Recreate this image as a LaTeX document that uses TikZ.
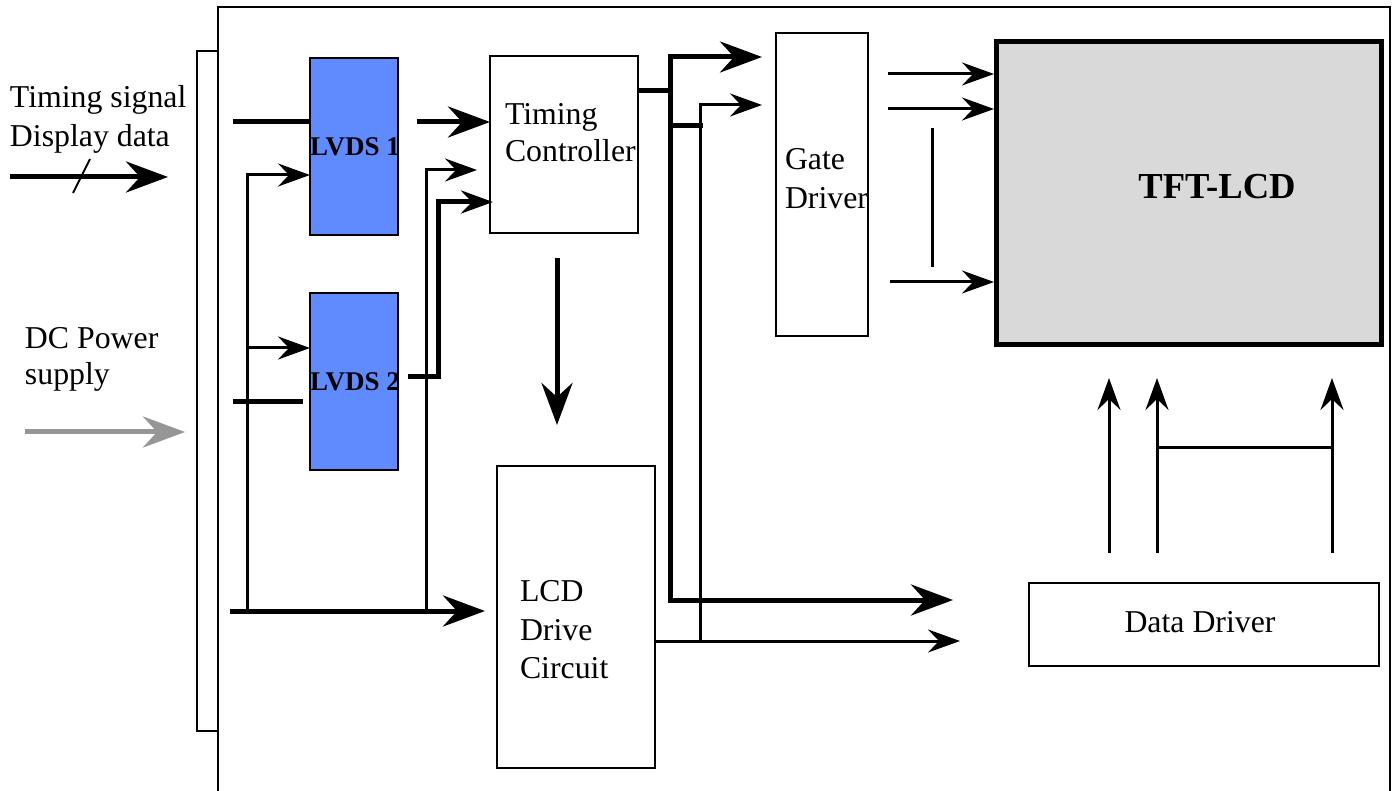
\documentclass[tikz,border=0pt]{standalone}
\usepackage{fontspec}
\setmainfont{Liberation Serif}
\usetikzlibrary{arrows.meta}
\definecolor{lvdsblue}{RGB}{95,139,255}
\definecolor{lcdgrey}{RGB}{217,217,217}
\definecolor{powergrey}{RGB}{150,150,150}
\begin{document}
\begin{tikzpicture}[x=0.5pt,y=-0.5pt,
  every node/.style={inner sep=0pt, outer sep=0pt},
  box/.style={draw, line width=1pt, anchor=north west},
  txt/.style={anchor=base west, font=\fontsize{15.9}{19.5}\selectfont},
  boldtxt/.style={font=\fontsize{13.5}{15}\selectfont\bfseries},
  thn/.style={line width=1.5pt},
  thk/.style={line width=2.5pt},
  big/.style={-{Stealth[length=21pt,width=15.5pt,inset=7pt]}},
  small/.style={-{Stealth[length=16pt,width=11.5pt,inset=5.5pt]}},
]
\useasboundingbox (0,0) rectangle (1399,791);
% outer frame
\draw[line width=1pt] (218,791) -- (218,7) -- (1390,7) -- (1390,791);
% connector bar
\node[box, minimum width=10.5pt, minimum height=340pt] (bar) at (197,51) {};
% boxes
\node[box, fill=lvdsblue, minimum width=44pt, minimum height=88.5pt] (lvds1) at (310,58) {};
\node[box, fill=lvdsblue, minimum width=44pt, minimum height=88.5pt] (lvds2) at (310,293) {};
\node[box, minimum width=74pt, minimum height=88.5pt] (tc) at (490,56) {};
\node[box, minimum width=46pt, minimum height=151.5pt] (gate) at (776,33) {};
\node[box, fill=lcdgrey, line width=2.5pt, minimum width=192.5pt, minimum height=151.5pt] (tft) at (996,42) {};
\node[box, minimum width=79pt, minimum height=151pt] (lcd) at (497,466) {};
\node[box, minimum width=175pt, minimum height=41.5pt] (data) at (1029,583) {};
% texts
\node[boldtxt] (l1) at (355,147) {LVDS 1};
\node[boldtxt] (l2) at (355,382) {LVDS 2};
\node[font=\fontsize{18.3}{21}\selectfont\bfseries] (tfttxt) at (1217,187) {TFT-LCD};
\node[font=\fontsize{15.9}{19.5}\selectfont] (datatxt) at (1200,622) {Data Driver};
\node[txt] (ts1) at (10,108) {Timing signal};
\node[txt] (ts2) at (10,147) {Display data};
\node[txt] (dc1) at (25,349) {DC Power};
\node[txt] (dc2) at (25,385) {supply};
\node[txt] (tc1) at (505,125) {Timing};
\node[txt] (tc2) at (505,162) {Controller};
\node[txt] (g1) at (785,170) {Gate};
\node[txt] (g2) at (785,209) {Driver};
\node[txt] (c1) at (520,601) {LCD};
\node[txt] (c2) at (520,640) {Drive};
\node[txt] (c3) at (520,678) {Circuit};
% left inputs
\draw[thk,big] (10,177) -- (168,177);
\draw[line width=1pt] (73,193) -- (90,159);
\draw[thk,powergrey,big] (25,432) -- (185,432);
% LVDS area
\draw[thk] (233,122) -- (310,122);
\draw[thk,big] (417,122) -- (490,122);
\draw[thk] (233,402) -- (303,402);
\draw[thn,small] (247,611) |- (310,175);
\draw[thn,small] (247,348) -- (310,348);
\draw[thk,big] (230,611) -- (485,611);
\draw[thn,small] (426,611) |- (477,170);
\draw[thk,small] (408,377) -| (438,202) -- (493,202);
% TC outputs
\draw[thk,big] (557,258) -- (557,425);
\draw[thk] (638,91) -- (670,91);
\draw[thk] (703,126) -- (670,126);
\draw[thk,{Stealth[length=21pt,width=15.5pt,inset=7pt]}-{Stealth[length=21pt,width=15.5pt,inset=7pt]}] (953,600) -- (670,600) |- (762,57);
\draw[thn,small] (700,641) |- (762,105);
\draw[thn,small] (655,641) -- (960,641);
% gate outputs
\draw[thn,small] (888,74) -- (994,74);
\draw[thn,small] (888,109) -- (994,109);
\draw[thn,small] (890,282) -- (994,282);
\draw[thn] (932,128) -- (932,267);
% data driver outputs
\draw[thn,small] (1109,553) -- (1109,378);
\draw[thn,small] (1157,553) -- (1157,378);
\draw[thn,small] (1332,553) -- (1332,378);
\draw[thn] (1157,448) -- (1334,448);
\end{tikzpicture}
\end{document}
